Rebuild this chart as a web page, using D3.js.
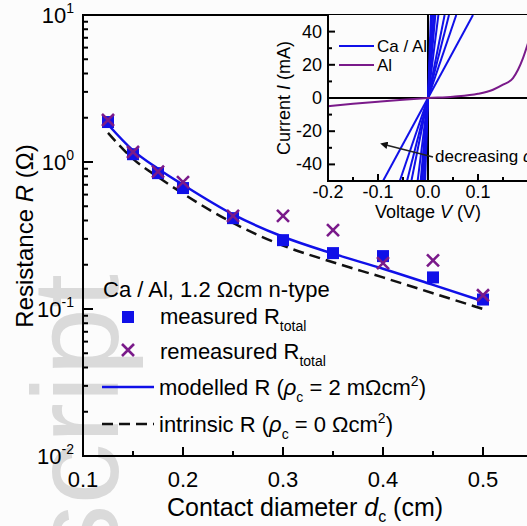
<!DOCTYPE html>
<html>
<head>
<meta charset="utf-8">
<script src="https://cdn.jsdelivr.net/npm/d3@7"></script>
<style>
  html, body { margin: 0; padding: 0; background: #fcfcfc; }
  svg { display: block; font-family: "Liberation Sans", Arial, sans-serif; }
</style>
</head>
<body>
<div id="graph"></div>
<script>
// contact diameters (cm)
var diam = [0.125, 0.15, 0.175, 0.2, 0.25, 0.3, 0.35, 0.4, 0.45, 0.5];
var measured = [1.87, 1.13, 0.84, 0.665, 0.415, 0.294, 0.24, 0.229, 0.164, 0.116];
var remeasured = [1.93, 1.17, 0.86, 0.73, 0.43, 0.43, 0.344, 0.205, 0.214, 0.124];

// modelled / intrinsic curves
var modelD = [0.125, 0.15, 0.175, 0.2, 0.25, 0.3, 0.35, 0.4, 0.45, 0.5];
var modelled = [1.80, 1.20, 0.90, 0.70, 0.44, 0.31, 0.238, 0.188, 0.146, 0.113];
var intrinsic = [1.58, 1.05, 0.79, 0.61, 0.385, 0.27, 0.208, 0.164, 0.128, 0.100];

var xTicks = [0.1, 0.2, 0.3, 0.4, 0.5];
var yTicks = [0.01, 0.1, 1, 10];

// inset: I-V curves
var caAlR = [1.80, 1.13, 0.84, 0.665, 0.415, 0.294, 0.24, 0.229, 0.164, 0.116]; // ohm
var alV = [-0.2, -0.15, -0.1, -0.05, 0, 0.05, 0.1, 0.13, 0.15, 0.17, 0.18, 0.19, 0.2];
var alI = [-5, -3.5, -2.2, -1, 0, 0.8, 2.5, 5, 8, 12, 17, 24, 33]; // mA
var insetXTicks = [-0.2, -0.1, 0.0, 0.1];
var insetYTicks = [-40, -20, 0, 20, 40];

var W = 527, H = 526;
var blue = "#1010e8", purple = "#7a1a8a";

var svg = d3.select("#graph").append("svg").attr("width", W).attr("height", H);

// faint watermark behind everything
svg.append("text")
	.attr("transform", "translate(118,274) rotate(-90)")
	.attr("text-anchor", "end")
	.attr("font-size", "122px")
	.attr("fill", "#dadada")
	.text("Manuscript");

var x = d3.scaleLinear().domain([0.1, 0.55]).range([83, 533]);
var y = d3.scaleLog().domain([0.01, 10]).range([456, 15]);

// minor ticks
var yMinor = [];
[0.01, 0.1, 1].forEach(function (b) {
	for (var k = 2; k <= 9; k++) yMinor.push(b * k);
});
var xMinor = [0.15, 0.25, 0.35, 0.45];

var ax = svg.append("g").attr("stroke", "#000").attr("stroke-width", 2);
ax.selectAll("line.ymaj").data(yTicks).enter().append("line")
	.attr("x1", x(0.1)).attr("x2", x(0.1) + 10)
	.attr("y1", function (d) { return y(d); }).attr("y2", function (d) { return y(d); });
ax.selectAll("line.ymin").data(yMinor).enter().append("line")
	.attr("x1", x(0.1)).attr("x2", x(0.1) + 5)
	.attr("y1", function (d) { return y(d); }).attr("y2", function (d) { return y(d); });
ax.selectAll("line.xmaj").data(xTicks).enter().append("line")
	.attr("x1", function (d) { return x(d); }).attr("x2", function (d) { return x(d); })
	.attr("y1", y(0.01)).attr("y2", y(0.01) - 9);
ax.selectAll("line.xmin").data(xMinor).enter().append("line")
	.attr("x1", function (d) { return x(d); }).attr("x2", function (d) { return x(d); })
	.attr("y1", y(0.01)).attr("y2", y(0.01) - 5);
ax.append("path").attr("fill", "none")
	.attr("d", "M" + W + "," + y(10) + "H" + x(0.1) + "V" + y(0.01) + "H" + W);

// tick labels
svg.selectAll("text.xl").data(xTicks).enter().append("text")
	.attr("x", function (d) { return x(d); })
	.attr("y", 487)
	.attr("text-anchor", "middle")
	.attr("font-size", "22px")
	.text(function (d) { return d.toFixed(1); });

var yl = svg.selectAll("text.yl").data(yTicks).enter().append("text")
	.attr("x", 74)
	.attr("y", function (d) { return y(d) + 8; })
	.attr("text-anchor", "end")
	.attr("font-size", "22px");
yl.append("tspan").text("10");
yl.append("tspan").attr("dy", -10).attr("font-size", "14px")
	.text(function (d) { return String(Math.round(Math.log10(d))); });

// axis titles
var xt = svg.append("text").attr("x", 305).attr("y", 516)
	.attr("text-anchor", "middle").attr("font-size", "25px");
xt.append("tspan").text("Contact diameter ");
xt.append("tspan").attr("font-style", "italic").text("d");
xt.append("tspan").attr("dy", 6).attr("font-size", "16px").text("c");
xt.append("tspan").attr("dy", -6).text(" (cm)");

var yt = svg.append("text").attr("transform", "translate(33,236) rotate(-90)")
	.attr("text-anchor", "middle").attr("font-size", "24px");
yt.append("tspan").text("Resistance ");
yt.append("tspan").attr("font-style", "italic").text("R");
yt.append("tspan").text(" (\u03A9)");

// curves
var line = d3.line()
	.x(function (d) { return x(d[0]); })
	.y(function (d) { return y(d[1]); })
	.curve(d3.curveMonotoneX);

svg.append("path")
	.attr("d", line(d3.zip(modelD, intrinsic)))
	.attr("fill", "none").attr("stroke", "#111").attr("stroke-width", 2.5)
	.attr("stroke-dasharray", "11,6");
svg.append("path")
	.attr("d", line(d3.zip(modelD, modelled)))
	.attr("fill", "none").attr("stroke", blue).attr("stroke-width", 2.5);

// measured squares
svg.selectAll("rect.m").data(d3.zip(diam, measured)).enter().append("rect")
	.attr("x", function (d) { return x(d[0]) - 6; })
	.attr("y", function (d) { return y(d[1]) - 6; })
	.attr("width", 12).attr("height", 12)
	.attr("fill", blue);

// remeasured crosses
var cross = "M-6,-6L6,6M-6,6L6,-6";
svg.selectAll("path.r").data(d3.zip(diam, remeasured)).enter().append("path")
	.attr("transform", function (d) { return "translate(" + x(d[0]) + "," + y(d[1]) + ")"; })
	.attr("d", cross)
	.attr("stroke", purple).attr("stroke-width", 2.6).attr("fill", "none");

// legend
var lg = svg.append("g").attr("font-size", "22px");
lg.append("text").attr("x", 103).attr("y", 297).text("Ca / Al, 1.2 \u03A9cm n-type");
lg.append("rect").attr("x", 122).attr("y", 311).attr("width", 12).attr("height", 12).attr("fill", blue);
var t1 = lg.append("text").attr("x", 160).attr("y", 324);
t1.append("tspan").text("measured R");
t1.append("tspan").attr("dy", 7).attr("font-size", "14px").text("total");
lg.append("path").attr("transform", "translate(128,350)").attr("d", cross)
	.attr("stroke", purple).attr("stroke-width", 2.6);
var t2 = lg.append("text").attr("x", 160).attr("y", 359);
t2.append("tspan").text("remeasured R");
t2.append("tspan").attr("dy", 7).attr("font-size", "14px").text("total");
lg.append("line").attr("x1", 102).attr("x2", 154).attr("y1", 387).attr("y2", 387)
	.attr("stroke", blue).attr("stroke-width", 2.5);
var t3 = lg.append("text").attr("x", 159).attr("y", 395);
t3.append("tspan").text("modelled R (");
t3.append("tspan").attr("font-style", "italic").text("\u03C1");
t3.append("tspan").attr("dy", 7).attr("font-size", "14px").text("c");
t3.append("tspan").attr("dy", -7).text(" = 2 m\u03A9cm");
t3.append("tspan").attr("dy", -9).attr("font-size", "14px").text("2");
t3.append("tspan").attr("dy", 9).text(")");
lg.append("line").attr("x1", 102).attr("x2", 154).attr("y1", 424).attr("y2", 424)
	.attr("stroke", "#111").attr("stroke-width", 2.5).attr("stroke-dasharray", "11,6");
var t4 = lg.append("text").attr("x", 159).attr("y", 432);
t4.append("tspan").text("intrinsic R (");
t4.append("tspan").attr("font-style", "italic").text("\u03C1");
t4.append("tspan").attr("dy", 7).attr("font-size", "14px").text("c");
t4.append("tspan").attr("dy", -7).text(" = 0 \u03A9cm");
t4.append("tspan").attr("dy", -9).attr("font-size", "14px").text("2");
t4.append("tspan").attr("dy", 9).text(")");

// ---- inset ----
var ix = d3.scaleLinear().domain([-0.2, 0.2]).range([328, 528]);
var iy = d3.scaleLinear().domain([-50, 50]).range([181, 15]);
var inset = svg.append("g");
inset.append("rect").attr("x", ix(-0.2)).attr("y", iy(50))
	.attr("width", W - ix(-0.2)).attr("height", iy(-50) - iy(50)).attr("fill", "#fcfcfc");

svg.append("clipPath").attr("id", "ic").append("rect")
	.attr("x", ix(-0.2)).attr("y", iy(50)).attr("width", 210).attr("height", iy(-50) - iy(50));

var ivs = inset.append("g").attr("clip-path", "url(#ic)");
// zero lines
ivs.append("line").attr("x1", ix(-0.2)).attr("x2", W).attr("y1", iy(0)).attr("y2", iy(0))
	.attr("stroke", "#000").attr("stroke-width", 2);
ivs.append("line").attr("x1", ix(0)).attr("x2", ix(0)).attr("y1", iy(50)).attr("y2", iy(-50))
	.attr("stroke", "#000").attr("stroke-width", 2);
// Ca/Al ohmic lines, V = I*R
ivs.selectAll("line.ca").data(caAlR).enter().append("line")
	.attr("x1", function (r) { return ix(-0.05 * r); })
	.attr("y1", iy(-50))
	.attr("x2", function (r) { return ix(0.05 * r); })
	.attr("y2", iy(50))
	.attr("stroke", blue).attr("stroke-width", 2);
var ivLine = d3.line()
	.x(function (d) { return ix(d[0]); })
	.y(function (d) { return iy(d[1]); })
	.curve(d3.curveMonotoneX);
ivs.append("path").attr("d", ivLine(d3.zip(alV, alI)))
	.attr("fill", "none").attr("stroke", purple).attr("stroke-width", 2);

// inset axes
var iax = inset.append("g").attr("stroke", "#000").attr("stroke-width", 2);
iax.append("path").attr("fill", "none")
	.attr("d", "M" + ix(-0.2) + "," + iy(50) + "V" + iy(-50) + "H" + W);
var iyMinor = [-30, -10, 10, 30];
iax.selectAll("line.a").data(insetYTicks).enter().append("line")
	.attr("x1", ix(-0.2)).attr("x2", ix(-0.2) + 7)
	.attr("y1", function (d) { return iy(d); }).attr("y2", function (d) { return iy(d); });
iax.selectAll("line.b").data(iyMinor).enter().append("line")
	.attr("x1", ix(-0.2)).attr("x2", ix(-0.2) + 4)
	.attr("y1", function (d) { return iy(d); }).attr("y2", function (d) { return iy(d); });
var ixMinor = [-0.15, -0.05, 0.05, 0.15];
iax.selectAll("line.c").data(insetXTicks).enter().append("line")
	.attr("x1", function (d) { return ix(d); }).attr("x2", function (d) { return ix(d); })
	.attr("y1", iy(-50)).attr("y2", iy(-50) - 7);
iax.selectAll("line.d").data(ixMinor).enter().append("line")
	.attr("x1", function (d) { return ix(d); }).attr("x2", function (d) { return ix(d); })
	.attr("y1", iy(-50)).attr("y2", iy(-50) - 4);

inset.selectAll("text.iy").data(insetYTicks).enter().append("text")
	.attr("x", ix(-0.2) - 6).attr("y", function (d) { return iy(d) + 6; })
	.attr("text-anchor", "end").attr("font-size", "18px")
	.text(function (d) { return String(d); });
inset.selectAll("text.ix").data(insetXTicks).enter().append("text")
	.attr("x", function (d) { return ix(d); }).attr("y", 198)
	.attr("text-anchor", "middle").attr("font-size", "18px")
	.text(function (d) { return d.toFixed(1); });

var vt = inset.append("text").attr("x", 428).attr("y", 218)
	.attr("text-anchor", "middle").attr("font-size", "18px");
vt.append("tspan").text("Voltage ");
vt.append("tspan").attr("font-style", "italic").text("V");
vt.append("tspan").text(" (V)");
var ct = inset.append("text").attr("transform", "translate(290,98) rotate(-90)")
	.attr("text-anchor", "middle").attr("font-size", "18px");
ct.append("tspan").text("Current ");
ct.append("tspan").attr("font-style", "italic").text("I");
ct.append("tspan").text(" (mA)");

// inset legend
inset.append("line").attr("x1", 339).attr("x2", 374).attr("y1", 46).attr("y2", 46)
	.attr("stroke", blue).attr("stroke-width", 2);
inset.append("text").attr("x", 377).attr("y", 52).attr("font-size", "17px").text("Ca / Al");
inset.append("line").attr("x1", 339).attr("x2", 374).attr("y1", 65).attr("y2", 65)
	.attr("stroke", purple).attr("stroke-width", 2);
inset.append("text").attr("x", 377).attr("y", 71).attr("font-size", "17px").text("Al");

// annotation arrow
svg.append("defs").append("marker").attr("id", "ah")
	.attr("viewBox", "0 0 10 10").attr("refX", 2).attr("refY", 5)
	.attr("markerWidth", 5).attr("markerHeight", 5).attr("orient", "auto")
	.append("path").attr("d", "M0,0L10,5L0,10Z").attr("fill", "#111");
inset.append("line").attr("x1", 433).attr("y1", 157).attr("x2", 386).attr("y2", 145)
	.attr("stroke", "#222").attr("stroke-width", 1.5).attr("marker-end", "url(#ah)");
var dt = inset.append("text").attr("x", 435).attr("y", 162).attr("font-size", "17px");
dt.append("tspan").text("decreasing ");
dt.append("tspan").attr("font-style", "italic").text("d");
dt.append("tspan").attr("dy", 5).attr("font-size", "11px").text("c");
</script>
</body>
</html>
